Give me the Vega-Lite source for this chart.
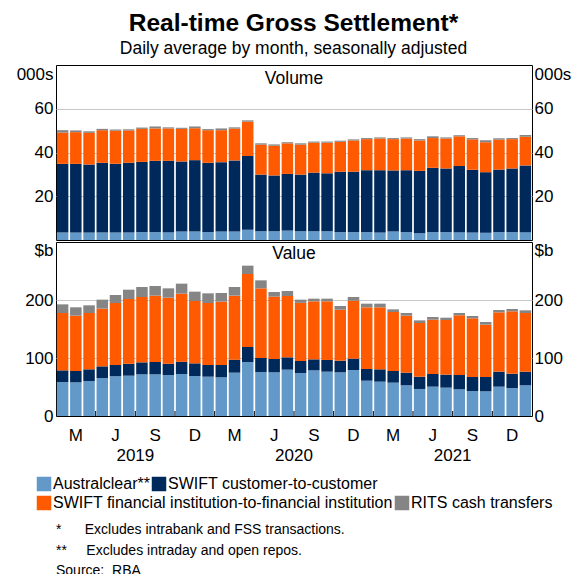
{
  "$schema": "https://vega.github.io/schema/vega-lite/v6.json",
  "padding": {"left": 15, "right": 8, "top": 10, "bottom": 0},
  "background": "white",
  "title": {
    "text": "Real-time Gross Settlement*",
    "subtitle": "Daily average by month, seasonally adjusted",
    "anchor": "middle",
    "font": "Liberation Sans",
    "fontSize": 24.5,
    "fontWeight": "bold",
    "color": "black",
    "subtitleFont": "Liberation Sans",
    "subtitleFontSize": 17.5,
    "subtitleColor": "black",
    "subtitlePadding": 4,
    "offset": 6
  },
  "datasets": {
    "volume": [
      {"month": "2019-01", "australclear": 3.4, "swift_c2c": 31.4, "swift_fi": 14.3, "rits": 1.1},
      {"month": "2019-02", "australclear": 3.4, "swift_c2c": 31.4, "swift_fi": 14.5, "rits": 0.8},
      {"month": "2019-03", "australclear": 3.4, "swift_c2c": 31.1, "swift_fi": 14.5, "rits": 0.7},
      {"month": "2019-04", "australclear": 3.4, "swift_c2c": 31.9, "swift_fi": 14.9, "rits": 0.6},
      {"month": "2019-05", "australclear": 3.4, "swift_c2c": 31.5, "swift_fi": 15.1, "rits": 0.5},
      {"month": "2019-06", "australclear": 3.4, "swift_c2c": 31.9, "swift_fi": 14.8, "rits": 0.5},
      {"month": "2019-07", "australclear": 3.6, "swift_c2c": 32.1, "swift_fi": 15.1, "rits": 0.6},
      {"month": "2019-08", "australclear": 3.6, "swift_c2c": 32.6, "swift_fi": 14.8, "rits": 0.9},
      {"month": "2019-09", "australclear": 3.6, "swift_c2c": 32.6, "swift_fi": 14.8, "rits": 0.5},
      {"month": "2019-10", "australclear": 3.9, "swift_c2c": 32.0, "swift_fi": 14.9, "rits": 0.5},
      {"month": "2019-11", "australclear": 3.9, "swift_c2c": 32.6, "swift_fi": 14.6, "rits": 0.8},
      {"month": "2019-12", "australclear": 3.6, "swift_c2c": 31.7, "swift_fi": 14.9, "rits": 0.5},
      {"month": "2020-01", "australclear": 3.9, "swift_c2c": 31.7, "swift_fi": 14.6, "rits": 0.8},
      {"month": "2020-02", "australclear": 3.9, "swift_c2c": 32.5, "swift_fi": 14.5, "rits": 0.6},
      {"month": "2020-03", "australclear": 4.7, "swift_c2c": 33.7, "swift_fi": 15.7, "rits": 0.6},
      {"month": "2020-04", "australclear": 4.0, "swift_c2c": 25.9, "swift_fi": 13.7, "rits": 0.6},
      {"month": "2020-05", "australclear": 4.0, "swift_c2c": 25.5, "swift_fi": 13.6, "rits": 0.6},
      {"month": "2020-06", "australclear": 4.3, "swift_c2c": 25.9, "swift_fi": 14.0, "rits": 0.5},
      {"month": "2020-07", "australclear": 4.0, "swift_c2c": 25.9, "swift_fi": 13.7, "rits": 0.6},
      {"month": "2020-08", "australclear": 4.0, "swift_c2c": 26.8, "swift_fi": 13.7, "rits": 0.5},
      {"month": "2020-09", "australclear": 4.0, "swift_c2c": 26.5, "swift_fi": 14.0, "rits": 0.5},
      {"month": "2020-10", "australclear": 3.6, "swift_c2c": 27.6, "swift_fi": 13.7, "rits": 0.5},
      {"month": "2020-11", "australclear": 3.6, "swift_c2c": 27.6, "swift_fi": 14.3, "rits": 0.5},
      {"month": "2020-12", "australclear": 3.6, "swift_c2c": 28.3, "swift_fi": 14.2, "rits": 0.5},
      {"month": "2021-01", "australclear": 3.4, "swift_c2c": 28.5, "swift_fi": 14.5, "rits": 0.5},
      {"month": "2021-02", "australclear": 3.9, "swift_c2c": 27.9, "swift_fi": 14.3, "rits": 0.5},
      {"month": "2021-03", "australclear": 3.6, "swift_c2c": 28.3, "swift_fi": 14.5, "rits": 0.5},
      {"month": "2021-04", "australclear": 3.1, "swift_c2c": 28.5, "swift_fi": 13.9, "rits": 0.6},
      {"month": "2021-05", "australclear": 3.6, "swift_c2c": 29.4, "swift_fi": 13.6, "rits": 0.8},
      {"month": "2021-06", "australclear": 3.6, "swift_c2c": 29.1, "swift_fi": 13.7, "rits": 0.5},
      {"month": "2021-07", "australclear": 3.6, "swift_c2c": 30.2, "swift_fi": 13.6, "rits": 0.5},
      {"month": "2021-08", "australclear": 3.4, "swift_c2c": 28.7, "swift_fi": 13.9, "rits": 0.6},
      {"month": "2021-09", "australclear": 3.3, "swift_c2c": 27.7, "swift_fi": 13.7, "rits": 0.9},
      {"month": "2021-10", "australclear": 3.6, "swift_c2c": 28.6, "swift_fi": 13.7, "rits": 0.6},
      {"month": "2021-11", "australclear": 3.6, "swift_c2c": 29.1, "swift_fi": 13.4, "rits": 0.5},
      {"month": "2021-12", "australclear": 3.6, "swift_c2c": 30.5, "swift_fi": 13.1, "rits": 0.8}
    ],
    "value": [
      {"month": "2019-01", "australclear": 58.6, "swift_c2c": 20.1, "swift_fi": 98.9, "rits": 14.9},
      {"month": "2019-02", "australclear": 58.0, "swift_c2c": 19.6, "swift_fi": 95.4, "rits": 14.4},
      {"month": "2019-03", "australclear": 60.3, "swift_c2c": 20.2, "swift_fi": 97.1, "rits": 13.2},
      {"month": "2019-04", "australclear": 65.5, "swift_c2c": 20.1, "swift_fi": 99.5, "rits": 15.5},
      {"month": "2019-05", "australclear": 68.4, "swift_c2c": 19.5, "swift_fi": 106.9, "rits": 13.8},
      {"month": "2019-06", "australclear": 69.5, "swift_c2c": 20.7, "swift_fi": 111.5, "rits": 16.1},
      {"month": "2019-07", "australclear": 71.8, "swift_c2c": 20.7, "swift_fi": 112.7, "rits": 17.2},
      {"month": "2019-08", "australclear": 71.8, "swift_c2c": 21.3, "swift_fi": 114.4, "rits": 16.6},
      {"month": "2019-09", "australclear": 70.7, "swift_c2c": 19.5, "swift_fi": 113.8, "rits": 16.1},
      {"month": "2019-10", "australclear": 72.4, "swift_c2c": 21.3, "swift_fi": 117.2, "rits": 17.3},
      {"month": "2019-11", "australclear": 69.0, "swift_c2c": 21.8, "swift_fi": 107.5, "rits": 16.1},
      {"month": "2019-12", "australclear": 67.8, "swift_c2c": 20.1, "swift_fi": 106.9, "rits": 16.7},
      {"month": "2020-01", "australclear": 66.7, "swift_c2c": 21.2, "swift_fi": 109.2, "rits": 15.0},
      {"month": "2020-02", "australclear": 74.7, "swift_c2c": 22.4, "swift_fi": 110.4, "rits": 14.9},
      {"month": "2020-03", "australclear": 93.1, "swift_c2c": 25.9, "swift_fi": 125.8, "rits": 14.4},
      {"month": "2020-04", "australclear": 75.9, "swift_c2c": 24.1, "swift_fi": 120.1, "rits": 13.8},
      {"month": "2020-05", "australclear": 75.3, "swift_c2c": 23.0, "swift_fi": 107.4, "rits": 8.1},
      {"month": "2020-06", "australclear": 79.9, "swift_c2c": 21.3, "swift_fi": 105.7, "rits": 8.6},
      {"month": "2020-07", "australclear": 74.1, "swift_c2c": 20.7, "swift_fi": 100.3, "rits": 5.5},
      {"month": "2020-08", "australclear": 78.7, "swift_c2c": 19.0, "swift_fi": 100.0, "rits": 4.6},
      {"month": "2020-09", "australclear": 76.4, "swift_c2c": 20.2, "swift_fi": 101.1, "rits": 4.6},
      {"month": "2020-10", "australclear": 75.3, "swift_c2c": 20.1, "swift_fi": 87.9, "rits": 6.4},
      {"month": "2020-11", "australclear": 79.3, "swift_c2c": 19.6, "swift_fi": 100.0, "rits": 6.3},
      {"month": "2020-12", "australclear": 60.9, "swift_c2c": 20.1, "swift_fi": 106.4, "rits": 6.3},
      {"month": "2021-01", "australclear": 59.2, "swift_c2c": 21.3, "swift_fi": 106.9, "rits": 6.3},
      {"month": "2021-02", "australclear": 57.5, "swift_c2c": 20.1, "swift_fi": 101.7, "rits": 4.6},
      {"month": "2021-03", "australclear": 52.9, "swift_c2c": 21.8, "swift_fi": 98.3, "rits": 4.6},
      {"month": "2021-04", "australclear": 46.6, "swift_c2c": 21.2, "swift_fi": 92.5, "rits": 4.6},
      {"month": "2021-05", "australclear": 50.6, "swift_c2c": 21.8, "swift_fi": 93.7, "rits": 4.6},
      {"month": "2021-06", "australclear": 48.9, "swift_c2c": 22.4, "swift_fi": 94.2, "rits": 4.0},
      {"month": "2021-07", "australclear": 46.0, "swift_c2c": 24.7, "swift_fi": 102.9, "rits": 4.0},
      {"month": "2021-08", "australclear": 43.1, "swift_c2c": 24.1, "swift_fi": 101.2, "rits": 4.0},
      {"month": "2021-09", "australclear": 42.5, "swift_c2c": 24.7, "swift_fi": 90.3, "rits": 4.6},
      {"month": "2021-10", "australclear": 50.6, "swift_c2c": 25.8, "swift_fi": 102.3, "rits": 4.1},
      {"month": "2021-11", "australclear": 48.3, "swift_c2c": 24.7, "swift_fi": 107.5, "rits": 4.0},
      {"month": "2021-12", "australclear": 52.9, "swift_c2c": 23.5, "swift_fi": 101.2, "rits": 4.6}
    ],
    "quarter_labels": [
      {"month": "2019-02", "label": "M"}, {"month": "2019-05", "label": "J"}, {"month": "2019-08", "label": "S"}, {"month": "2019-11", "label": "D"},
      {"month": "2020-02", "label": "M"}, {"month": "2020-05", "label": "J"}, {"month": "2020-08", "label": "S"}, {"month": "2020-11", "label": "D"},
      {"month": "2021-02", "label": "M"}, {"month": "2021-05", "label": "J"}, {"month": "2021-08", "label": "S"}, {"month": "2021-11", "label": "D"}
    ],
    "year_labels": [
      {"month": "2019-07", "label": "2019"}, {"month": "2020-07", "label": "2020"}, {"month": "2021-07", "label": "2021"}
    ],
    "quarter_starts": [
      {"month": "2019-04"}, {"month": "2019-07"}, {"month": "2019-10"},
      {"month": "2020-01"}, {"month": "2020-04"}, {"month": "2020-07"}, {"month": "2020-10"},
      {"month": "2021-01"}, {"month": "2021-04"}, {"month": "2021-07"}, {"month": "2021-10"}
    ]
  },
  "spacing": 0,
  "resolve": {
    "scale": {"x": "independent", "y": "independent", "color": "independent"},
    "legend": {"color": "independent"}
  },
  "vconcat": [
    {
      "width": 476,
      "height": 175,
      "layer": [
        {
          "data": {"name": "volume"},
          "transform": [
            {"fold": ["australclear", "swift_c2c", "swift_fi", "rits"], "as": ["series", "v"]},
            {"calculate": "indexof(['australclear', 'swift_c2c', 'swift_fi', 'rits'], datum.series)", "as": "rank"},
            {"stack": "v", "groupby": ["month"], "sort": [{"field": "rank", "order": "ascending"}], "as": ["v0", "v1"]}
          ],
          "mark": {"type": "bar"},
          "encoding": {
            "x": {"field": "month", "type": "ordinal", "scale": {"type": "band", "paddingInner": 0.13, "paddingOuter": 0.065}, "axis": null},
            "y": {
              "field": "v1", "type": "quantitative",
              "scale": {"domain": [0, 80], "nice": false},
              "axis": {
                "orient": "left", "values": [20, 40, 60, 80], "title": null,
                "labelExpr": "datum.value == 80 ? '000s' : datum.label",
                "labelOffset": {"condition": {"test": "datum.value == 80", "value": 9}, "value": 0},
                "grid": true, "gridColor": "#c8c8c8",
                "gridOpacity": {"condition": {"test": "datum.value == 80", "value": 0}, "value": 1},
                "ticks": false, "domain": false, "labelPadding": 3, "labelFlush": false, "labelOverlap": false, "labelBaseline": "middle"
              }
            },
            "y2": {"field": "v0"},
            "color": {
              "field": "series", "type": "nominal",
              "scale": {"domain": ["australclear", "swift_c2c", "swift_fi", "rits"], "range": ["#6399c9", "#00295b", "#ff5a00", "#858585"]},
              "legend": null
            }
          }
        },
        {
          "data": {"name": "volume"},
          "transform": [
            {"fold": ["australclear", "swift_c2c", "swift_fi", "rits"], "as": ["series", "v"]},
            {"calculate": "indexof(['australclear', 'swift_c2c', 'swift_fi', 'rits'], datum.series)", "as": "rank"},
            {"stack": "v", "groupby": ["month"], "sort": [{"field": "rank", "order": "ascending"}], "as": ["v0", "v1"]}
          ],
          "mark": {"type": "bar", "opacity": 0},
          "encoding": {
            "x": {"field": "month", "type": "ordinal", "axis": null},
            "y": {
              "field": "v1", "type": "quantitative",
              "axis": {
                "orient": "right", "values": [20, 40, 60, 80], "title": null,
                "labelExpr": "datum.value == 80 ? '000s' : datum.label",
                "labelOffset": {"condition": {"test": "datum.value == 80", "value": 9}, "value": 0},
                "grid": false, "ticks": false, "domain": false, "labelPadding": 2, "labelFlush": false, "labelOverlap": false, "labelBaseline": "middle"
              }
            },
            "y2": {"field": "v0"}
          }
        },
        {
          "data": {"values": [{"label": "Volume"}]},
          "mark": {"type": "text", "fontSize": 17.5, "color": "black", "baseline": "middle", "align": "center"},
          "encoding": {
            "text": {"field": "label"},
            "y": {"datum": 73.4, "type": "quantitative", "axis": null}
          }
        }
      ]
    },
    {
      "width": 476,
      "height": 174,
      "title": {
        "text": ["*\u00a0\u00a0\u00a0\u00a0\u00a0\u00a0Excludes intrabank and FSS transactions.", "**\u00a0\u00a0\u00a0\u00a0\u00a0Excludes intraday and open repos.", "Source:\u00a0\u00a0RBA"],
        "orient": "bottom", "anchor": "start", "frame": "group",
        "fontSize": 14, "fontWeight": "normal", "color": "black",
        "lineHeight": 20.5, "offset": 12, "align": "left", "baseline": "top"
      },
      "resolve": {"scale": {"color": "independent"}, "legend": {"color": "independent"}},
      "layer": [
        {
          "data": {"name": "value"},
          "transform": [
            {"fold": ["australclear", "swift_c2c", "swift_fi", "rits"], "as": ["series", "v"]},
            {"calculate": "indexof(['australclear', 'swift_c2c', 'swift_fi', 'rits'], datum.series)", "as": "rank"},
            {"stack": "v", "groupby": ["month"], "sort": [{"field": "rank", "order": "ascending"}], "as": ["v0", "v1"]},
            {"filter": "datum.rank <= 1"}
          ],
          "mark": {"type": "bar"},
          "encoding": {
            "x": {
              "field": "month", "type": "ordinal",
              "scale": {"type": "band", "paddingInner": 0.13, "paddingOuter": 0.065},
              "axis": null
            },
            "y": {
              "field": "v1", "type": "quantitative",
              "scale": {"domain": [0, 300], "nice": false},
              "axis": {
                "orient": "left", "values": [0, 100, 200, 300], "title": null,
                "labelExpr": "datum.value == 300 ? '$b' : datum.label",
                "labelOffset": {"condition": {"test": "datum.value == 300", "value": 8.5}, "value": 0},
                "grid": true, "gridColor": "#c8c8c8",
                "gridOpacity": {"condition": {"test": "datum.value == 300 || datum.value == 0", "value": 0}, "value": 1},
                "ticks": false, "domain": false, "labelPadding": 3, "labelFlush": false, "labelOverlap": false, "labelBaseline": "middle"
              }
            },
            "y2": {"field": "v0"},
            "color": {
              "field": "series", "type": "nominal",
              "scale": {"domain": ["australclear", "swift_c2c"], "range": ["#6399c9", "#00295b"]},
              "legend": {
                "orient": "none", "legendX": -20, "legendY": 234, "direction": "horizontal", "padding": 0,
                "title": null, "symbolType": "square", "symbolSize": 210, "symbolStrokeWidth": 0,
                "labelFontSize": 16, "labelColor": "black", "labelOffset": 1, "columnPadding": 1,
                "labelLimit": 600,
                "labelExpr": "datum.label == 'australclear' ? 'Australclear**' : 'SWIFT customer-to-customer'"
              }
            }
          }
        },
        {
          "data": {"name": "value"},
          "transform": [
            {"fold": ["australclear", "swift_c2c", "swift_fi", "rits"], "as": ["series", "v"]},
            {"calculate": "indexof(['australclear', 'swift_c2c', 'swift_fi', 'rits'], datum.series)", "as": "rank"},
            {"stack": "v", "groupby": ["month"], "sort": [{"field": "rank", "order": "ascending"}], "as": ["v0", "v1"]},
            {"filter": "datum.rank >= 2"}
          ],
          "mark": {"type": "bar"},
          "encoding": {
            "x": {"field": "month", "type": "ordinal", "axis": null},
            "y": {
              "field": "v1", "type": "quantitative",
              "axis": {
                "orient": "right", "values": [0, 100, 200, 300], "title": null,
                "labelExpr": "datum.value == 300 ? '$b' : datum.label",
                "labelOffset": {"condition": {"test": "datum.value == 300", "value": 8.5}, "value": 0},
                "grid": false, "ticks": false, "domain": false, "labelPadding": 2, "labelFlush": false, "labelOverlap": false, "labelBaseline": "middle"
              }
            },
            "y2": {"field": "v0"},
            "color": {
              "field": "series", "type": "nominal",
              "scale": {"domain": ["swift_fi", "rits"], "range": ["#ff5a00", "#858585"]},
              "legend": {
                "orient": "none", "legendX": -20, "legendY": 253, "direction": "horizontal", "padding": 0,
                "title": null, "symbolType": "square", "symbolSize": 210, "symbolStrokeWidth": 0,
                "labelFontSize": 16, "labelColor": "black", "labelOffset": 1, "columnPadding": 1,
                "labelLimit": 600,
                "labelExpr": "datum.label == 'swift_fi' ? 'SWIFT financial institution-to-financial institution' : 'RITS cash transfers'"
              }
            }
          }
        },
        {
          "data": {"values": [{"label": "Value"}]},
          "mark": {"type": "text", "fontSize": 17.5, "color": "black", "baseline": "middle", "align": "center"},
          "encoding": {
            "text": {"field": "label"},
            "y": {"datum": 279, "type": "quantitative", "axis": null}
          }
        },
        {
          "data": {"name": "quarter_labels"},
          "mark": {"type": "text", "fontSize": 17, "color": "black", "baseline": "middle", "align": "center"},
          "encoding": {
            "x": {"field": "month", "type": "ordinal", "axis": null},
            "y": {"datum": -34.5, "type": "quantitative", "axis": null},
            "text": {"field": "label"}
          }
        },
        {
          "data": {"name": "year_labels"},
          "mark": {"type": "text", "fontSize": 17, "color": "black", "baseline": "middle", "align": "center"},
          "encoding": {
            "x": {"field": "month", "type": "ordinal", "bandPosition": -0.075, "axis": null},
            "y": {"datum": -69, "type": "quantitative", "axis": null},
            "text": {"field": "label"}
          }
        },
        {
          "data": {"name": "quarter_starts"},
          "mark": {"type": "rule", "color": "black", "strokeWidth": 1},
          "encoding": {
            "x": {"field": "month", "type": "ordinal", "bandPosition": -0.075, "axis": null},
            "y": {"datum": 0, "type": "quantitative", "axis": null},
            "y2": {"datum": 8.6}
          }
        }
      ]
    }
  ],
  "config": {
    "font": "Liberation Sans",
    "view": {"stroke": "black", "strokeWidth": 1},
    "axis": {"labelFont": "Liberation Sans", "labelFontSize": 17, "labelColor": "black"},
    "legend": {"labelFont": "Liberation Sans"},
    "title": {"font": "Liberation Sans"},
    "text": {"font": "Liberation Sans"}
  }
}
